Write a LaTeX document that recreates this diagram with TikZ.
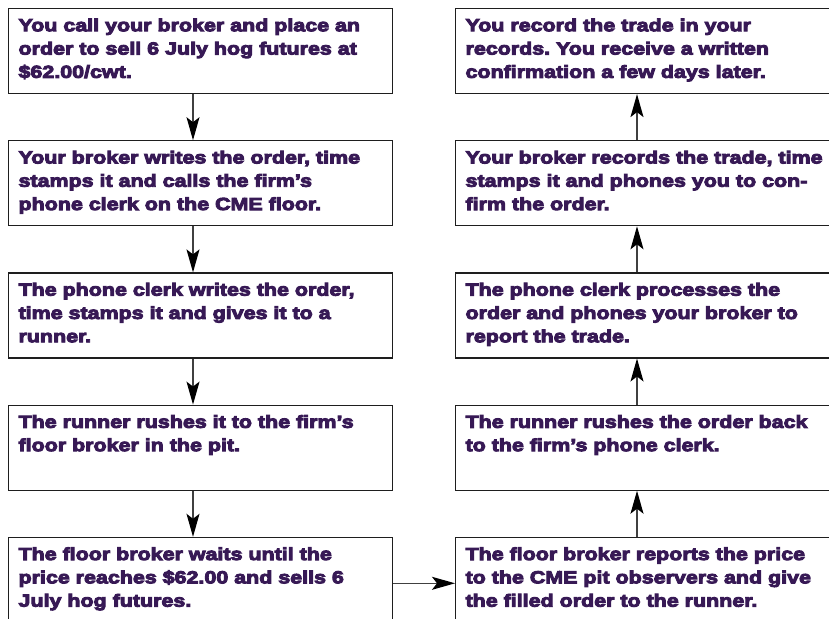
\documentclass[tikz,border=0pt]{standalone}
\usepackage{fontspec}
\usetikzlibrary{arrows.meta}
\newfontfamily\heavyfont{Liberation Sans Bold}[FakeStretch=1.225,FakeBold=5.5]
\definecolor{txtpurple}{RGB}{55,25,85}
\definecolor{boxline}{RGB}{30,30,30}
\definecolor{shaft}{RGB}{64,64,64}
% text block inside a step box: top aligned, explicit line breaks
\newcommand{\steptext}[1]{\parbox[c][85bp][t]{364bp}{\frenchspacing\fontsize{17.5bp}{23.3bp}\selectfont\rule{0pt}{22.7bp}#1}}
\tikzset{
  stepbox/.style={draw=boxline, line width=1.1bp, anchor=north west,
    inner xsep=10bp, inner ysep=0bp, minimum width=384bp, minimum height=85bp,
    font=\heavyfont, text=txtpurple},
  flow/.style={draw=shaft, line width=1.3bp,
    -{Stealth[length=23bp,width=13bp,inset=5bp,color=black]}}
}
\begin{document}
\begin{tikzpicture}[x=1bp,y=-1bp]
\useasboundingbox (0,0) rectangle (829,619);
\clip (0,0) rectangle (829,619);

% left column: the order travels down to the pit
\node[stepbox] (l1) at (8,8) {\steptext{You call your broker and place an\\order to sell 6 July hog futures at\\\$62.00/cwt.}};
\node[stepbox] (l2) at (8,140.2) {\steptext{Your broker writes the order, time\\stamps it and calls the firm’s\\phone clerk on the CME floor.}};
\node[stepbox] (l3) at (8,272.4) {\steptext{The phone clerk writes the order,\\time stamps it and gives it to a\\runner.}};
\node[stepbox] (l4) at (8,404.6) {\steptext{The runner rushes it to the firm’s\\floor broker in the pit.}};
\node[stepbox] (l5) at (8,536.8) {\steptext{The floor broker waits until the\\price reaches \$62.00 and sells 6\\July hog futures.}};

% right column: the fill travels back up to you
\node[stepbox] (r1) at (455,8) {\steptext{You record the trade in your\\records. You receive a written\\confirmation a few days later.}};
\node[stepbox] (r2) at (455,140.2) {\steptext{Your broker records the trade, time\\stamps it and phones you to con-\\firm the order.}};
\node[stepbox] (r3) at (455,272.4) {\steptext{The phone clerk processes the\\order and phones your broker to\\report the trade.}};
\node[stepbox] (r4) at (455,404.6) {\steptext{The runner rushes the order back\\to the firm’s phone clerk.}};
\node[stepbox] (r5) at (455,536.8) {\steptext{The floor broker reports the price\\to the CME pit observers and give\\the filled order to the runner.}};

% connector guide positions
\coordinate (lx) at (193,0);
\coordinate (rx) at (637,0);
\coordinate (hy) at (0,583.3);

\draw[flow] (l1.south -| lx) -- (l2.north -| lx);
\draw[flow] (l2.south -| lx) -- (l3.north -| lx);
\draw[flow] (l3.south -| lx) -- (l4.north -| lx);
\draw[flow] (l4.south -| lx) -- (l5.north -| lx);

\draw[flow] (l5.east |- hy) -- (r5.west |- hy);

\draw[flow] (r5.north -| rx) -- (r4.south -| rx);
\draw[flow] (r4.north -| rx) -- (r3.south -| rx);
\draw[flow] (r3.north -| rx) -- (r2.south -| rx);
\draw[flow] (r2.north -| rx) -- (r1.south -| rx);
\end{tikzpicture}
\end{document}
